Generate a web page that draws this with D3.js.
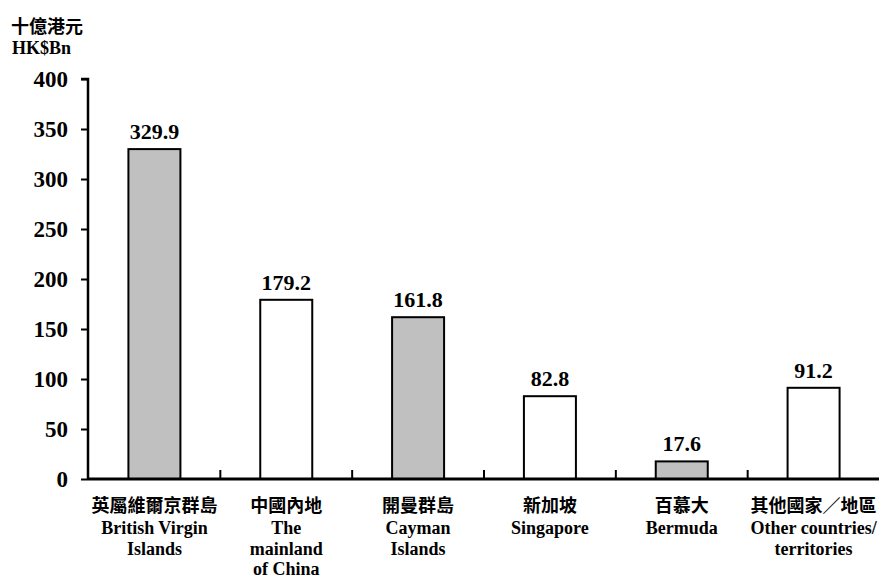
<!DOCTYPE html>
<html><head><meta charset="utf-8">
<script src="https://cdn.jsdelivr.net/npm/d3@7"></script>
<style>body{margin:0;background:#fff}</style>
</head><body>
<svg id="c" width="879" height="578"></svg>
<script>
const categoriesZh = ["英屬維爾京群島","中國內地","開曼群島","新加坡","百慕大","其他國家／地區"];
const categoriesEn = [["British Virgin","Islands"],["The","mainland","of China"],["Cayman","Islands"],["Singapore"],["Bermuda"],["Other countries/","territories"]];
const values = [329.9,179.2,161.8,82.8,17.6,91.2];
const shaded = [true,false,true,false,true,false];
const yTicks = [0,50,100,150,200,250,300,350,400];
const titleZh = "十億港元", titleEn = "HK$Bn";

const svg = d3.select("#c");
const x0 = 88, x1 = 879.5, yTop = 79, yBot = 479;
const x = d3.scaleBand().domain(d3.range(values.length)).range([x0+0.5,x1]).paddingInner(0).paddingOuter(0);
const y = d3.scaleLinear().domain([0,400]).range([yBot,yTop]);
const SERIF = '"Liberation Serif"';
const CJK = '"Noto Sans CJK TC"';
function serif(sel,size){return sel.style("font-family",SERIF).style("font-weight","bold").style("font-size",size+"px").attr("fill","#000");}
function cjk(sel,size){return sel.style("font-family",CJK).style("font-weight","bold").style("font-size",size+"px").attr("fill","#000");}

cjk(svg.append("text").attr("x",11).attr("y",33),18).text(titleZh);
serif(svg.append("text").attr("x",12).attr("y",54),18).text(titleEn);

// bars
const bw = 52;
svg.selectAll("rect.bar").data(values).join("rect")
  .attr("x",(d,i)=>x(i)+x.bandwidth()/2-bw/2).attr("width",bw)
  .attr("y",d=>y(d)).attr("height",d=>y(0)-y(d))
  .attr("fill",(d,i)=>shaded[i]?"#c0c0c0":"#fff").attr("stroke","#000").attr("stroke-width",2);

serif(svg.selectAll("text.val").data(values).join("text")
  .attr("x",(d,i)=>x(i)+x.bandwidth()/2).attr("y",d=>y(d)-10)
  .attr("text-anchor","middle"),22)
  .text(d=>d.toFixed(1));

// y axis
const yAxis = d3.axisLeft(y).tickValues(yTicks).tickSize(7).tickPadding(13).tickFormat(d3.format("d"));
const ga = svg.append("g").attr("transform",`translate(${x0},0)`).call(yAxis);
ga.select(".domain").attr("stroke","#000").attr("stroke-width",2.5).attr("d",`M-7,${yTop}H0V${yBot}`);
ga.selectAll(".tick line").attr("stroke","#000").attr("stroke-width",2);
serif(ga.selectAll(".tick text"),23);

// x axis
const gx = svg.append("g").attr("transform",`translate(0,${yBot})`);
gx.append("line").attr("x1",x0).attr("x2",x1).attr("stroke","#000").attr("stroke-width",3);
gx.selectAll("line.t").data(d3.range(1,values.length)).join("line")
  .attr("x1",i=>x(i)).attr("x2",i=>x(i)).attr("y1",0).attr("y2",-9)
  .attr("stroke","#000").attr("stroke-width",2);

const lab = svg.selectAll("g.lab").data(categoriesZh).join("g")
  .attr("transform",(d,i)=>`translate(${x(i)+x.bandwidth()/2},0)`);
cjk(lab.append("text").attr("y",512).attr("text-anchor","middle"),18).text(d=>d);
lab.each(function(d,i){
  const g=d3.select(this);
  categoriesEn[i].forEach((s,k)=>{
    serif(g.append("text").attr("y",534+k*20.5).attr("text-anchor","middle"),18).text(s);
  });
});
</script>
</body></html>
